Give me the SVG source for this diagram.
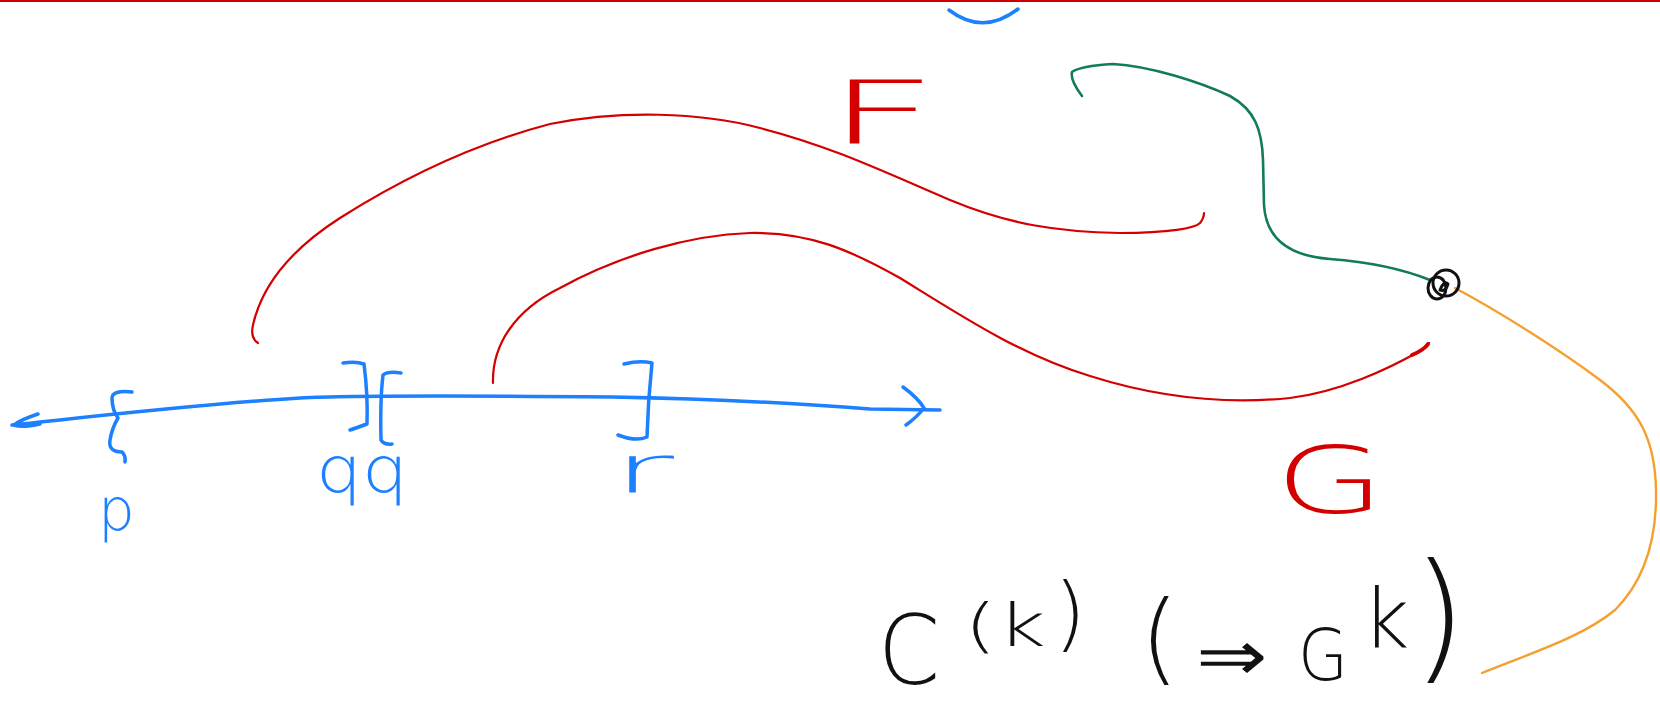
<svg xmlns="http://www.w3.org/2000/svg" width="1660" height="707" viewBox="0 0 1660 707">
<style>
.s{fill:none;stroke-linecap:round;stroke-linejoin:round}
.blue{stroke:#1c80ff;stroke-width:3.5}
.red{stroke:#d40000;stroke-width:2.2}
.green{stroke:#137a5c;stroke-width:2.6}
.orange{stroke:#f5a02e;stroke-width:2.4}
.black{stroke:#111;stroke-width:3}
.t{font-family:"DejaVu Sans","Liberation Sans",sans-serif;font-weight:200}
.tb{fill:#1c80ff}.tr{fill:#d40000}.tk{fill:#111}
</style>
<rect x="0" y="0" width="1660" height="707" fill="#fff"/>
<line x1="0" y1="1" x2="1660" y2="1" stroke="#cc0000" stroke-width="2"/>
<path class="s blue" d="M949 10 Q983 36 1018 9"/>
<g id="axis">
<path class="s blue" d="M12 425 C80 418 200 404 300 398 C360 395 500 396 612 397 C720 399 820 405 870 409 L940 410"/>
<path class="s blue" d="M38 414 Q20 420 14 425 Q22 428 40 424"/>
<path class="s blue" d="M903 387 Q918 398 924 408 Q916 418 906 425"/>
<path class="s blue" d="M132 392 Q112 390 112 398 Q112 410 118 418 Q112 428 110 440 Q108 452 122 452 Q126 456 125 462"/>
<path class="s blue" d="M343 363 Q356 361 364 364 Q368 395 367 424 Q356 428 350 430"/>
<path class="s blue" d="M401 373 Q388 371 383 375 Q380 400 381 440 Q384 445 392 444"/>
<path class="s blue" d="M624 364 Q640 360 652 363 Q648 400 647 437 Q636 442 618 435"/>
</g>
<g id="labels-axis">
<text class="t tb" x="98" y="530" font-size="58">p</text>
<text class="t tb" x="316" y="492" font-size="64" textLength="92" lengthAdjust="spacingAndGlyphs">qq</text>
<text class="t tb" x="612" y="492" font-size="66" textLength="62" lengthAdjust="spacingAndGlyphs">r</text>
</g>
<g id="connectors">
<path class="s red" d="M258 343 Q250 338 253 325 C262 285 290 250 340 218 C400 180 470 145 550 124 C620 110 700 112 760 128 C830 146 880 170 950 200 C1010 225 1060 232 1120 233 C1170 233 1195 228 1200 223 Q1204 218 1204 213"/>
<path class="s red" d="M493 383 C492 345 515 310 560 288 C620 255 690 235 750 233 C810 232 850 250 900 278 C960 315 1020 355 1090 376 C1150 395 1220 405 1290 398 C1340 392 1390 368 1418 352 Q1428 347 1429 343"/>
<path class="s red" style="stroke-width:4" d="M1412 355 Q1424 350 1428 344"/>
<path class="s green" d="M1082 96 Q1070 80 1072 72 Q1080 66 1113 64 C1150 66 1200 82 1230 96 C1255 110 1262 130 1263 160 L1264 205 C1266 240 1290 256 1330 259 C1370 262 1400 268 1430 280"/>
<path class="s orange" d="M1455 288 C1500 312 1560 350 1600 380 C1640 410 1655 440 1656 490 C1657 540 1645 580 1615 610 C1585 635 1540 650 1482 673"/>
</g>
<g id="junction">
<circle class="s black" cx="1446" cy="283" r="13"/>
<ellipse class="s black" cx="1437" cy="288" rx="9" ry="11"/>
<path class="s black" d="M1440 290 Q1444 280 1448 284 Q1446 292 1440 290"/>
</g>
<g id="label-F"><text class="t tr" x="826" y="143" font-size="88" textLength="112" lengthAdjust="spacingAndGlyphs">F</text></g>
<g id="label-G"><text class="t tr" x="1275" y="513" font-size="92" textLength="110" lengthAdjust="spacingAndGlyphs">G</text></g>
<g id="formula">
<text class="t tk" x="878" y="684" font-size="96" textLength="62" lengthAdjust="spacingAndGlyphs">C</text>
<text class="t tk" x="964" y="646" font-size="58" textLength="82" lengthAdjust="spacingAndGlyphs">(k</text>
<text class="t tk" x="1054" y="641" font-size="82">)</text>
<text class="t tk" x="1140" y="672" font-size="100">(</text>
<text class="t tk" x="1196" y="680" font-size="70" textLength="72" lengthAdjust="spacingAndGlyphs">⇒</text>
<text class="t tk" x="1298" y="680" font-size="72" textLength="50" lengthAdjust="spacingAndGlyphs">G</text>
<text class="t tk" x="1362" y="647" font-size="82">k</text>
<text class="t tk" x="1412" y="664" font-size="140">)</text>
</g>
</svg>
